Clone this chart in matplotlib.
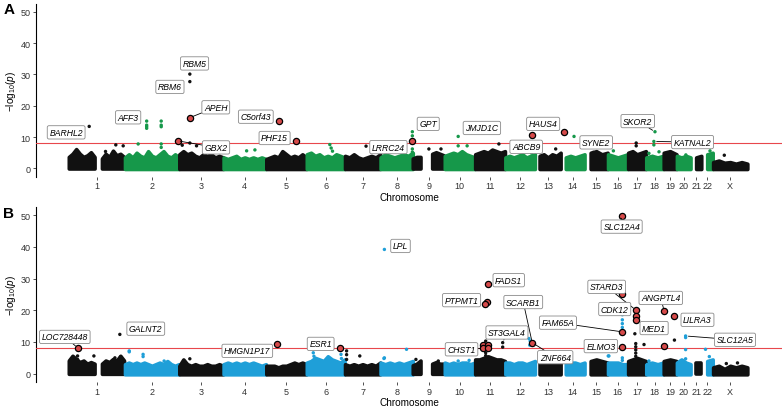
import numpy as np
import matplotlib.pyplot as plt

plt.rcParams['font.family'] = ['Liberation Sans', 'DejaVu Sans']
plt.rcParams['mathtext.fontset'] = 'custom'
plt.rcParams['mathtext.rm'] = 'Liberation Sans'
plt.rcParams['mathtext.it'] = 'Liberation Sans:italic'

# chromosomes (hg19 lengths, Mb)
chrom_names = ['1', '2', '3', '4', '5', '6', '7', '8', '9', '10', '11', '12',
               '13', '14', '15', '16', '17', '18', '19', '20', '21', '22', 'X']
chrom_len = [249, 243, 198, 191, 181, 171, 159, 146, 141, 136, 135, 134,
             115, 107, 103, 90, 81, 78, 59, 63, 48, 51, 155]

nan = np.nan
# upper edge of the dense cloud of SNPs, per chromosome (-log10 p)
band_a = [
    [3.5, 4.5, 6.0, 4.5, 3.5, 4.0, 5.0, 3.5, nan, 3.0, 4.5, 3.5, 5.5, 4.0, 4.5, 3.5],
    [3.5, 4.5, 3.5, 5.0, 4.0, 3.5, 5.5, 4.0, 3.5, 4.5, 5.5, 4.0, 3.5, 4.5, 3.5],
    [4.5, 5.5, 4.5, 5.0, 4.0, 3.5, 4.5, 4.0, 4.5, 3.5, 4.0, 3.5],
    [3.5, 3.0, 3.5, 4.0, 3.0, 3.5, 3.0, 3.5, 3.0, 3.5, 3.0],
    [3.0, 3.5, 4.0, 3.5, 5.5, 4.5, 3.5, 4.0, 3.5, 4.5, 3.5],
    [4.5, 5.0, 4.0, 4.5, 3.5, 4.0, 3.5, 4.5, 4.0, 3.5],
    [4.0, 3.5, 4.5, 3.5, 3.0, 3.5, 4.0, 3.5, 4.5],
    [3.5, 4.5, 4.0, 3.5, 4.0, 4.5, 4.0, 5.0],
    [3.0, 3.5, 3.5, nan, nan, 4.5, 5.0, 4.5, 4.0],
    [4.0, 4.5, 5.0, 4.5, 5.5, 4.5, 4.0, 3.5],
    [4.5, 5.0, 5.5, 5.0, 6.0, 5.5, 5.0, 5.5],
    [3.5, 4.0, 3.5, 4.0, 4.5, 3.5, 4.0, 4.5],
    [nan, 4.0, 4.5, 3.5, 4.5, 4.0, 5.0],
    [nan, 3.5, 4.0, 3.5, 4.0, 4.5],
    [nan, 5.0, 5.5, 4.5, 5.0],
    [4.5, 4.0, 3.5, 4.0, 4.5],
    [5.0, 5.5, 4.5, 5.0, 5.5],
    [3.5, 4.0, 3.5, 4.0],
    [5.0, 5.5, 4.5],
    [4.0, 3.5, 4.0, 3.5],
    [nan, 3.5, 4.0],
    [nan, 4.5, 5.0],
    [2.0, 2.5, 1.8, 2.0, 1.5, 2.0, 1.5],
]
band_b = [
    [4.0, 5.5, 4.5, 3.5, 4.0, 3.0, 3.5, 3.0, nan, 3.0, 4.0, 3.5, 4.5, 4.0, 5.5, 4.0],
    [3.0, 3.5, 3.0, 3.5, 3.0, 3.5, 3.0, 2.5, 3.0, 3.5, 3.0, 4.0, 3.0, 2.5, 3.0],
    [2.5, 4.5, 3.0, 2.5, 3.0, 2.5, 2.5, 3.0, 2.5, 2.5, 3.0, 2.5],
    [3.0, 3.5, 3.0, 3.5, 3.0, 3.5, 3.0, 3.5, 3.0, 2.5, 3.0],
    [2.5, 2.5, 2.5, 2.0, 2.5, 2.5, 3.0, 3.5, 3.0, 3.5, 3.0],
    [3.5, 4.0, 5.0, 4.5, 4.0, 5.5, 4.5, 4.0, 3.5, 4.5],
    [3.0, 2.5, 3.0, 2.5, 3.0, 2.5, 3.0, 2.5, 3.5],
    [3.5, 3.0, 3.5, 3.0, 3.5, 3.0, 3.5, 4.0],
    [2.5, 3.0, 4.0, nan, nan, 3.0, 3.5, 3.0, 3.0],
    [3.5, 3.0, 3.5, 3.0, 3.5, 3.5, 3.0, 3.5],
    [4.5, 4.5, 5.0, 5.5, 5.0, 4.5, 4.5, 4.0],
    [3.5, 3.5, 3.0, 3.5, 3.5, 3.0, 3.5, 4.0],
    [nan, 4.0, 3.5, 3.5, 4.0, 3.5, 3.5],
    [nan, 3.0, 3.5, 3.5, 3.0, 3.5],
    [nan, 4.0, 4.5, 4.0, 3.5],
    [3.5, 3.5, 3.5, 3.0, 3.0],
    [4.0, 4.5, 5.0, 4.5, 4.0],
    [3.0, 3.5, 3.0, 3.5],
    [4.0, 4.5, 4.0],
    [3.5, 4.5, 3.5, 3.0],
    [nan, 3.5, 3.5],
    [nan, 4.0, 4.5],
    [2.0, 2.5, 1.5, 2.5, 2.0, 2.5, 2.0],
]

# individual SNPs above the cloud: chromosome index (1..23), position (Mb), -log10 p
pts_a_chr = [1, 1, 1, 1, 2, 2, 2, 2, 2, 2, 2, 2, 2, 2, 3, 3, 3, 3, 3,
             4, 4, 6, 6, 6, 7, 8, 8, 8, 8, 9, 9, 10, 10, 10, 11, 12, 12,
             14, 13, 17, 17, 18, 18, 18, 18, 18, 18, 22, 23, 16, 20, 15]
pts_a_pos = [90, 209, 242, 163, 98, 98, 98, 98, 163, 163, 163, 163, 163, 60, 48, 48, 14, 48, 78,
             104, 141, 104, 110, 116, 95, 143, 143, 143, 143, 71, 125, 61, 61, 101, 107, 118, 118,
             59, 92, 37, 37, 40, 35, 35, 13, 58, 30, 38, 51, 25, 41, 38]
pts_a_y = [13.4, 7.5, 7.2, 5.4, 15.1, 13.8, 13.3, 12.8, 15.1, 13.8, 13.3, 7.8, 6.7, 7.8, 30.1, 27.7, 7.4, 8.1, 7.2,
           5.6, 5.9, 7.6, 6.5, 5.5, 7.1, 11.7, 10.4, 6.2, 5.2, 6.2, 6.2, 10.2, 7.2, 7.2, 7.8, 7.2, 4.9,
           10.2, 6.2, 8.1, 7.2, 11.7, 8.6, 7.5, 4.8, 5.3, 3.8, 5.6, 4.2, 5.6, 4.3, 5.1]
hl_a_chr = [3, 2, 5, 5, 8, 12, 14]
hl_a_pos = [48, 236, 59, 132, 143, 118, 15]
hl_a_y = [16.2, 8.8, 15.0, 8.8, 8.6, 10.6, 11.7]

pts_b_chr = [1, 1, 1, 1, 1, 1, 2, 2, 2, 2, 2, 3, 6, 6, 7, 7, 7, 7, 6, 6, 6,
             8, 8, 8, 8, 11, 11, 11, 11, 11, 11, 11, 11, 12, 12, 12, 9, 9, 10, 10,
             16, 16, 16, 16, 16, 16, 16, 16, 16, 17, 17, 17, 17, 17, 17, 17, 17, 18,
             19, 20, 20, 20, 20, 22, 22, 23, 23]
pts_b_pos = [227, 38, 38, 111, 205, 230, 20, 20, 82, 82, 176, 48, 154, 156, 8, 8, 8, 67, 30, 33, 36,
             18, 18, 117, 16, 48, 48, 48, 48, 48, 48, 124, 124, 106, 112, 110, 13, 113, 61, 110,
             60, 65, 65, 65, 65, 65, 65, 2, 5, 31, 35, 35, 35, 35, 35, 72, 72, 13,
             49, 40, 40, 40, 40, 18, 35, 60, 110]
pts_b_y = [12.4, 5.6, 4.5, 5.6, 5.0, 5.3, 7.2, 6.9, 6.1, 5.4, 4.0, 4.7, 6.1, 4.8, 7.2, 6.0, 4.5, 5.6, 6.6, 5.5, 4.2,
           39.2, 5.0, 7.7, 4.8, 10.3, 6.6, 5.7, 4.8, 3.9, 3.2, 9.8, 8.4, 11.1, 10.3, 9.0, 4.5, 4.0, 4.0, 4.2,
           49.9, 18.6, 17.0, 15.8, 14.6, 5.0, 4.2, 5.6, 5.6, 12.6, 9.5, 8.5, 7.5, 6.5, 5.5, 9.2, 3.5, 4.0,
           10.6, 11.9, 11.4, 7.6, 4.7, 7.7, 5.4, 3.2, 3.4]
hl_b_chr = [1, 5, 6, 11, 11, 11, 11, 11, 11, 11, 12, 16, 16, 16, 16, 17, 17, 17, 19, 19, 19]
hl_b_pos = [38, 51, 149, 57, 53, 46, 37, 59, 38, 58, 121, 62, 65, 65, 65, 35, 35, 35, 3, 1, 49]
hl_b_y = [8.2, 9.3, 8.0, 28.4, 22.7, 22.1, 9.2, 9.2, 8.0, 8.0, 9.8, 49.9, 25.3, 13.2, 8.5,
          20.1, 18.2, 16.8, 19.8, 8.7, 18.2]

# gene labels: name, label centre (cumulative Mb, -log10 p), connector target or None
lab_a = [('BARHL2', -13, 11.5, None), ('RBM5', 561, 33.5, None), ('RBM6', 451, 26.0, None),
         ('APEH', 656, 19.5, (3, 48, 16.2)), ('AFF3', 264, 16.3, None),
         ('C5orf43', 835, 16.5, None), ('PHF15', 919, 9.7, None),
         ('GBX2', 657, 6.7, (2, 236, 8.8)), ('LRRC24', 1428, 6.8, None),
         ('GPT', 1606, 14.2, None), ('JMJD1C', 1846, 12.9, None), ('HAUS4', 2120, 14.2, None),
         ('ABCB9', 2044, 6.9, None), ('SYNE2', 2357, 8.3, None),
         ('SKOR2', 2543, 15.1, (18, 40, 11.7)), ('KATNAL2', 2788, 8.4, (18, 35, 8.6))]
lab_b = [('LOC728448', -19, 11.6, (1, 38, 8.2)), ('GALNT2', 343, 14.2, None),
         ('HMGN1P17', 797, 7.2, None), ('ESR1', 1125, 9.4, None), ('LPL', 1482, 40.3, None),
         ('SLC12A4', 2471, 46.4, (16, 62, 49.9)), ('FADS1', 1966, 29.5, None),
         ('PTPMT1', 1755, 23.2, None), ('SCARB1', 2031, 22.6, (12, 121, 9.8)),
         ('STARD3', 2404, 27.4, (17, 35, 20.1)), ('ANGPTL4', 2646, 23.9, (19, 3, 19.8)),
         ('CDK12', 2440, 20.4, None), ('ST3GAL4', 1958, 13.0, (11, 124, 9.8)),
         ('FAM65A', 2186, 16.1, (16, 65, 13.2)), ('LILRA3', 2810, 17.0, None),
         ('MED1', 2616, 14.4, None), ('SLC12A5', 2978, 10.7, (20, 40, 11.9)),
         ('CHST1', 1755, 7.7, (11, 37, 8.0)), ('ELMO3', 2378, 8.7, None),
         ('ZNF664', 2174, 5.2, (12, 121, 9.8))]

threshold = 8

starts = np.concatenate([[0], np.cumsum(chrom_len)[:-1]])
centers = starts + np.array(chrom_len) / 2.0

dark = '#111111'
green = '#16984a'
blue = '#1f9fd8'
red_fill = '#d64a4a'


def cum(c, p):
    return starts[np.array(c) - 1] + np.array(p)


def chrom_col(c, alt):
    return dark if (c - 1) % 2 == 0 else alt


def panel(ax, band, pc, pp, py, hc, hp, hy, labels, alt):
    for i, h in enumerate(band):
        s = starts[i]
        L = chrom_len[i]
        x = np.linspace(s + 1, s + L - 1, len(h))
        col = chrom_col(i + 1, alt)
        ax.fill_between(x, -0.2, np.array(h, float), color=col, edgecolor=col,
                        lw=2.6, joinstyle='round', zorder=2)
    ax.axhline(threshold, color='#e8474c', lw=0.8, zorder=3)
    cols = [chrom_col(c, alt) for c in pc]
    ax.scatter(cum(pc, pp), py, s=6, c=cols, lw=0, zorder=4)
    ax.scatter(cum(hc, hp), hy, s=20, c=red_fill, edgecolors='black', lw=0.9, zorder=6)
    for name, lx, ly, tgt in labels:
        box = dict(boxstyle='round,pad=0.25,rounding_size=0.2', fc='white', ec='#8a8a8a', lw=0.6)
        if tgt is None:
            ax.text(lx, ly, name, fontsize=6.2, style='italic', ha='center', va='center',
                    bbox=box, zorder=8)
        else:
            tx = cum([tgt[0]], [tgt[1]])[0]
            ax.annotate(name, xy=(tx, tgt[2]), xytext=(lx, ly), fontsize=6.2, style='italic',
                        ha='center', va='center', bbox=box, zorder=8,
                        arrowprops=dict(arrowstyle='-', color='black', lw=0.6,
                                        shrinkA=0, shrinkB=2))
    ax.set_xlim(-148, 3188)
    ax.set_ylim(-2.6, 52.5)
    ax.set_yticks([0, 10, 20, 30, 40, 50])
    ax.set_xticks(centers)
    ax.set_xticklabels(chrom_names)
    for sp in ['top', 'right', 'bottom']:
        ax.spines[sp].set_visible(False)
    ax.spines['left'].set_linewidth(0.8)
    ax.tick_params(axis='y', length=2.5, width=0.6, pad=1.5, labelsize=6.5, colors='#333333')
    ax.tick_params(axis='x', length=2.5, width=0.6, pad=1, labelsize=6.5, colors='#333333')
    ax.set_xlabel('Chromosome', fontsize=7.2, labelpad=1)
    ax.set_ylabel(r'$-\mathrm{log}_{10}(\mathit{p})$', fontsize=7.2, labelpad=2)


fig = plt.figure(figsize=(7.82, 4.10), dpi=100)
ax_a = fig.add_axes([0.046, 0.567, 0.954, 0.421])
ax_b = fig.add_axes([0.046, 0.066, 0.954, 0.426])

panel(ax_a, band_a, pts_a_chr, pts_a_pos, pts_a_y, hl_a_chr, hl_a_pos, hl_a_y, lab_a, green)
panel(ax_b, band_b, pts_b_chr, pts_b_pos, pts_b_y, hl_b_chr, hl_b_pos, hl_b_y, lab_b, blue)

fig.text(0.004, 0.975, 'A', fontsize=11, fontweight='bold', va='center')
fig.text(0.004, 0.478, 'B', fontsize=11, fontweight='bold', va='center')

fig.savefig('out.png', dpi=100)
